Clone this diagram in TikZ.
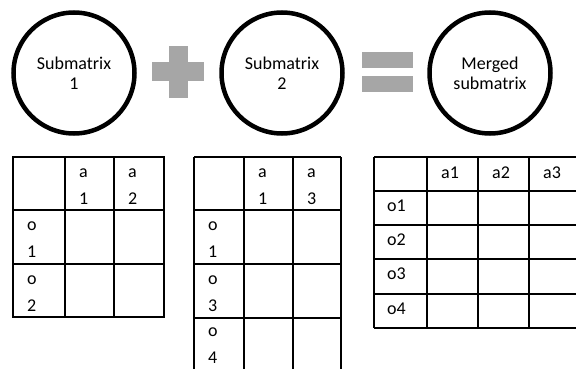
\documentclass[tikz,border=0pt]{standalone}
\usepackage{fontspec}
\setmainfont{Carlito}
\definecolor{symgray}{HTML}{A6A6A6}
\begin{document}
\begin{tikzpicture}[x=1pt,y=-1pt,
  circ/.style={draw, circle, line width=4.5pt, minimum size=121pt, inner sep=0pt,
    align=center, font=\fontsize{18}{20}\selectfont},
  bar/.style={fill=symgray, draw=none, inner sep=0pt, rectangle},
  tbl/.style={draw=black, line width=2pt},
  lbl/.style={anchor=base west, inner sep=0pt, font=\fontsize{18}{22}\selectfont}]
\useasboundingbox (0,0) rectangle (576,369);
\clip (0,0) rectangle (576,369);
% circles
\node[circ] (c1) at (74,73) {Submatrix\\1};
\node[circ] (c2) at (282,73) {Submatrix\\2};
\node[circ] (c3) at (490,73) {Merged\\submatrix};
% plus
\node[bar, minimum width=52pt, minimum height=19pt] (plush) at (178,72) {};
\node[bar, minimum width=19pt, minimum height=52pt] (plusv) at (178,72) {};
% equals
\node[bar, minimum width=51pt, minimum height=16pt] (eq1) at (387.5,60) {};
\node[bar, minimum width=51pt, minimum height=16pt] (eq2) at (387.5,84) {};
% table 1
\draw[tbl] (13,157) rectangle (164,317);
\draw[tbl] (65,157) -- (65,317) (114,157) -- (114,317) (13,210) -- (164,210) (13,264) -- (164,264);
\node[lbl] (t1a) at (79,177) {a};   \node[lbl] (t1b) at (79,204) {1};
\node[lbl] (t1c) at (128,177) {a};  \node[lbl] (t1d) at (128,204) {2};
\node[lbl] (t1e) at (27,230) {o};   \node[lbl] (t1f) at (27,257) {1};
\node[lbl] (t1g) at (27,284) {o};   \node[lbl] (t1h) at (27,311) {2};
% table 2
\draw[tbl] (194,157) -- (341,157) (194,157) -- (194,380) (341,157) -- (341,380);
\draw[tbl] (244,157) -- (244,380) (293,157) -- (293,380)
  (194,210) -- (341,210) (194,264) -- (341,264) (194,318) -- (341,318);
\node[lbl] (t2a) at (258,177) {a};  \node[lbl] (t2b) at (258,204) {1};
\node[lbl] (t2c) at (307,177) {a};  \node[lbl] (t2d) at (307,204) {3};
\node[lbl] (t2e) at (208,230) {o};  \node[lbl] (t2f) at (208,257) {1};
\node[lbl] (t2g) at (208,284) {o};  \node[lbl] (t2h) at (208,311) {3};
\node[lbl] (t2i) at (208,336) {o};  \node[lbl] (t2j) at (208,363) {4};
% table 3
\draw[tbl] (374,157) -- (590,157) (374,157) -- (374,328) (374,328) -- (590,328);
\draw[tbl] (427,157) -- (427,328) (478,157) -- (478,328) (529,157) -- (529,328)
  (374,191) -- (590,191) (374,225) -- (590,225) (374,259) -- (590,259) (374,294) -- (590,294);
\node[lbl] (t3a) at (441,178) {a1};
\node[lbl] (t3b) at (492,178) {a2};
\node[lbl] (t3c) at (543,178) {a3};
\node[lbl] (t3d) at (387,211) {o1};
\node[lbl] (t3e) at (387,245) {o2};
\node[lbl] (t3f) at (387,279) {o3};
\node[lbl] (t3g) at (387,314) {o4};
\end{tikzpicture}
\end{document}
